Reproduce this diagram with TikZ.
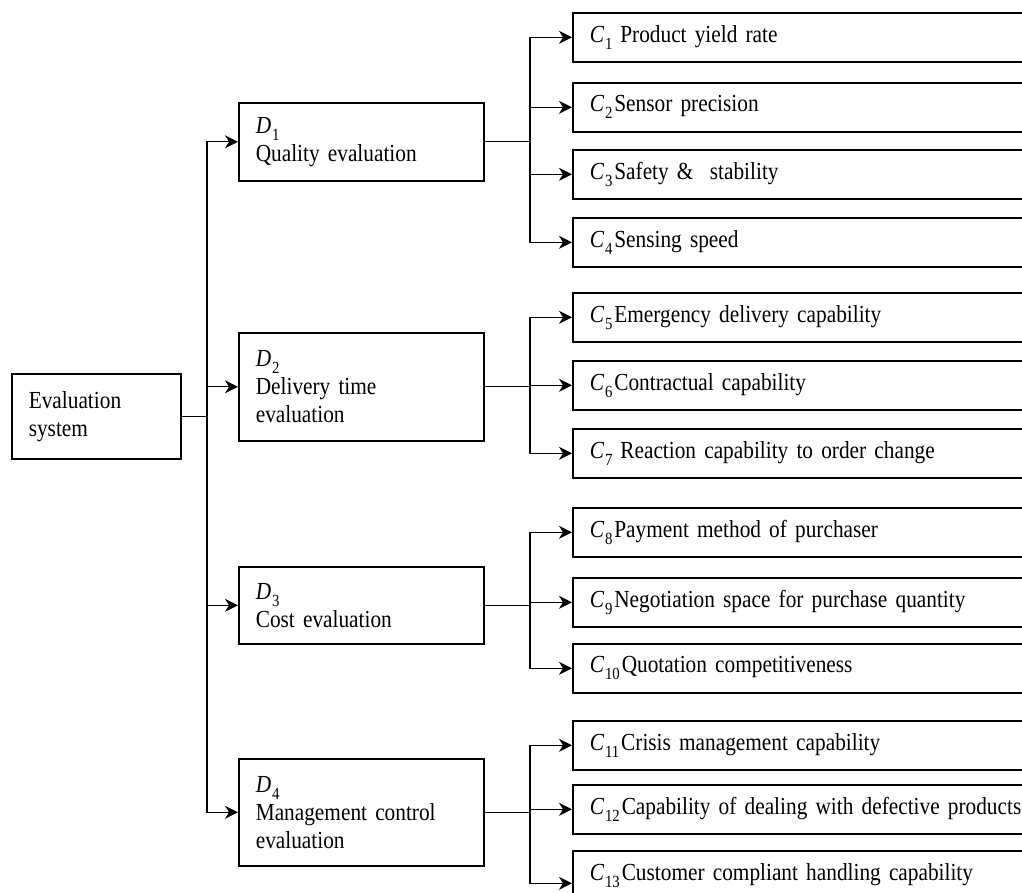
\documentclass[tikz,border=0pt]{standalone}
\usepackage{fontspec}
\setmainfont{Liberation Serif}[FakeStretch=0.87]
\usetikzlibrary{arrows.meta,calc}
\newcommand{\lab}[2]{{\itshape #1}\kern0.04em\raisebox{-0.28em}{\fontsize{17}{17}\selectfont #2}\kern0.08em}
\NewDocumentCommand{\boxfont}{}{\fontsize{24.5}{28}\selectfont\spaceskip=4.5pt plus 1pt minus 1pt\relax}
\begin{document}
\begin{tikzpicture}[x=1pt,y=-1pt,
 box/.style={draw, line width=1.6pt, inner xsep=17pt, inner ysep=0pt, align=left, font=\boxfont},
 cbox/.style={box, anchor=north west, minimum height=49pt, text width=480pt},
 dbox/.style={box, anchor=north west, text width=211pt},
 arr/.style={-{Stealth[length=13pt,width=13pt,inset=4pt]}, line width=1.3pt},
 ln/.style={line width=1.3pt}]
\useasboundingbox (0,0) rectangle (1022,893);
\clip (0,0) rectangle (1022,893);

% root
\node[box, anchor=north west, text width=135pt, minimum height=85pt] (E) at (11,373) {Evaluation\\system};

% dimensions
\node[dbox, minimum height=78pt]  (D1) at (238,102) {\lab{D}{1}\\Quality evaluation};
\node[dbox, minimum height=108pt] (D2) at (238,332) {\lab{D}{2}\\Delivery time\\evaluation};
\node[dbox, minimum height=77pt]  (D3) at (238,566) {\lab{D}{3}\\Cost evaluation};
\node[dbox, minimum height=107pt] (D4) at (238,758) {\lab{D}{4}\\Management control\\evaluation};

% criteria
\node[cbox] (C1)  at (572,12)  {\lab{C}{1}\hspace{6pt}Product yield rate};
\node[cbox] (C2)  at (572,82)  {\lab{C}{2}Sensor precision};
\node[cbox] (C3)  at (572,149) {\lab{C}{3}Safety \&\ \ stability};
\node[cbox] (C4)  at (572,217) {\lab{C}{4}Sensing speed};
\node[cbox] (C5)  at (572,292) {\lab{C}{5}Emergency delivery capability};
\node[cbox] (C6)  at (572,360) {\lab{C}{6}Contractual capability};
\node[cbox] (C7)  at (572,428) {\lab{C}{7}\hspace{6pt}Reaction capability to order change};
\node[cbox] (C8)  at (572,507) {\lab{C}{8}Payment method of purchaser};
\node[cbox] (C9)  at (572,577) {\lab{C}{9}Negotiation space for purchase quantity};
\node[cbox] (C10) at (572,643) {\lab{C}{10}Quotation competitiveness};
\node[cbox] (C11) at (572,720) {\lab{C}{11}Crisis management capability};
\node[cbox] (C12) at (572,784) {\lab{C}{12}Capability of dealing with defective products};
\node[cbox] (C13) at (572,850) {\lab{C}{13}Customer compliant handling capability};

% trunk
\coordinate (t) at (207,0 |- E.east);
\draw[ln] (E.east) -- (t);
\foreach \d in {D1,D2,D3,D4} \draw[arr] (t) |- (\d.west);

% branches
\coordinate (b1) at (530,0 |- D1.east);
\coordinate (b2) at (530,0 |- D2.east);
\coordinate (b3) at (530,0 |- D3.east);
\coordinate (b4) at (530,0 |- D4.east);
\draw[ln] (D1.east) -- (b1);
\draw[ln] (D2.east) -- (b2);
\draw[ln] (D3.east) -- (b3);
\draw[ln] (D4.east) -- (b4);
\foreach \c in {C1,C2,C3,C4} \draw[arr] (b1) |- (\c.west);
\foreach \c in {C5,C6,C7} \draw[arr] (b2) |- (\c.west);
\foreach \c in {C8,C9,C10} \draw[arr] (b3) |- (\c.west);
\foreach \c in {C11,C12} \draw[arr] (b4) |- (\c.west);
\draw[arr] (b4) |- ([yshift=-8pt]C13.west);
\end{tikzpicture}
\end{document}
